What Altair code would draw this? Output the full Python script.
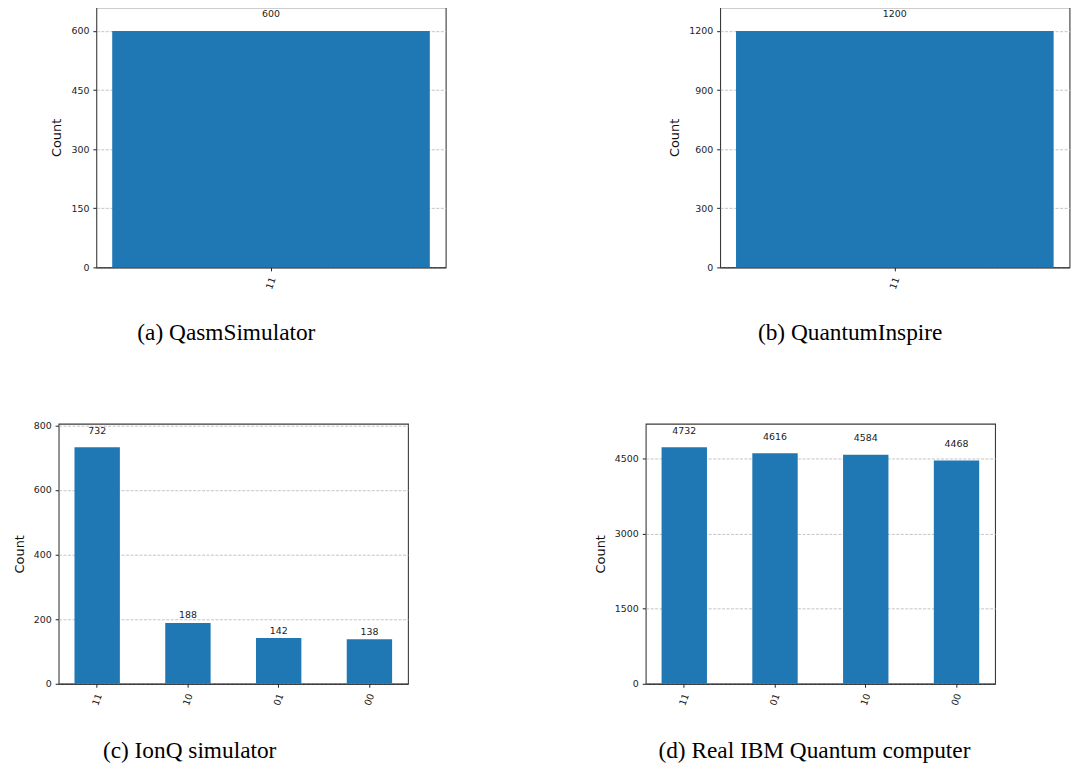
import altair as alt
import pandas as pd

# ---- data ----
states_a = ["11"]
counts_a = [600]
ticks_a = [0, 150, 300, 450, 600]

states_b = ["11"]
counts_b = [1200]
ticks_b = [0, 300, 600, 900, 1200]

states_c = ["11", "10", "01", "00"]
counts_c = [732, 188, 142, 138]
ticks_c = [0, 200, 400, 600, 800]

states_d = ["11", "01", "10", "00"]
counts_d = [4732, 4616, 4584, 4468]
ticks_d = [0, 1500, 3000, 4500]

captions = ["(a) QasmSimulator", "(b) QuantumInspire",
            "(c) IonQ simulator", "(d) Real IBM Quantum computer"]

BAR = "#1f77b4"
SANS = "DejaVu Sans"
SERIF = "Liberation Serif"
W, H = 352, 262


def panel(states, counts, ticks, caption, pad_outer, dx, offset):
    df = pd.DataFrame({"state": states, "count": counts})
    dmax = 1.1 * max(counts)
    yscale = alt.Scale(domain=[0, dmax], nice=False, zero=True)
    yaxis = alt.Axis(title="Count", values=ticks, format="d", grid=True,
                     gridDash=[3, 1.5], gridColor="#c4c4c4",
                     domain=False, tickSize=3.5, tickColor="#222",
                     labelPadding=4, labelFont=SANS,
                     labelFontSize=9.5, labelColor="#222",
                     titleFont=SANS, titleFontSize=13,
                     titleFontWeight="normal", titleColor="#111",
                     titlePadding=7)
    xenc = alt.X(
        "state:N", sort=states,
        scale=alt.Scale(paddingInner=0.5, paddingOuter=pad_outer),
        axis=alt.Axis(title=None, labelAngle=290, labelAlign="center",
                      labelBaseline="middle", labelPadding=12, tickSize=3.5,
                      labelFont=SANS, labelFontSize=9.5, labelColor="#222",
                      domainColor="#222", tickColor="#222", grid=False),
    )
    base = alt.Chart(df).transform_calculate(ly="1.05 * datum.count")
    bars = base.mark_bar(color=BAR).encode(
        x=xenc,
        y=alt.Y("count:Q", scale=yscale, axis=yaxis, title="Count"),
    )
    labels = base.mark_text(baseline="bottom", font=SANS, fontSize=9.5,
                            color="#222").encode(
        x=xenc,
        y=alt.Y("ly:Q", scale=yscale, axis=yaxis, title="Count"),
        text="count:Q",
    )
    return alt.layer(bars, labels).properties(
        width=W, height=H,
        title=alt.TitleParams(caption, orient="bottom", anchor="middle",
                              frame="group", dx=dx, offset=offset,
                              font=SERIF, fontSize=23.5, fontWeight="normal",
                              color="#000"),
    )


def spacer(w):
    # empty, invisible block used only to shift a panel sideways
    return alt.Chart(pd.DataFrame({"s": [0]})).mark_point(opacity=0, size=1).encode(
        x=alt.value(0), y=alt.value(0)
    ).properties(width=w, height=1, view=alt.ViewBackground(stroke="transparent"))


pa = panel(states_a, counts_a, ticks_a, captions[0], 0.025, -45, 31.5)
pb = panel(states_b, counts_b, ticks_b, captions[1], 0.025, -45, 31.5)
pc = panel(states_c, counts_c, ticks_c, captions[2], 0.175, -44, 33)
pd_ = panel(states_d, counts_d, ticks_d, captions[3], 0.175, -6, 33)

row1 = alt.hconcat(alt.hconcat(spacer(39), pa, spacing=0), pb, spacing=222.5)
row2 = alt.hconcat(alt.hconcat(spacer(1), pc, spacing=0), pd_, spacing=185.5)

chart = alt.vconcat(row1, row2, spacing=74.5).properties(
    padding={"left": 0, "top": -5.5, "right": 0, "bottom": 0}
).configure_view(stroke="#3a3a3a", strokeWidth=1.1)

chart.save("out.html", embed_options={"renderer": "svg", "actions": False})
